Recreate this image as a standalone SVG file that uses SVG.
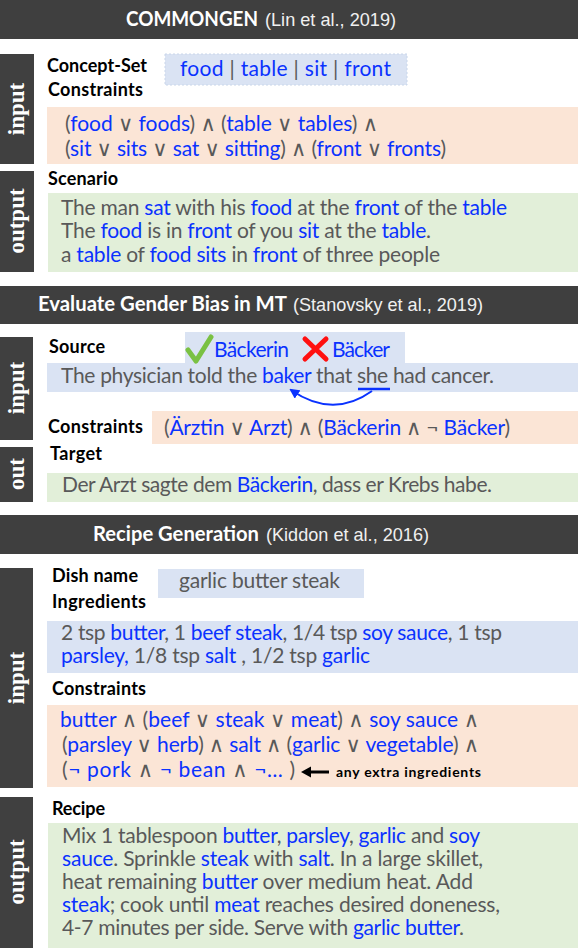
<svg xmlns="http://www.w3.org/2000/svg" width="578" height="948" viewBox="0 0 578 948">
<style>
.t{font-family:Lato,"DejaVu Sans",sans-serif;font-size:21px;fill:#595959}
.b{fill:#0a32ff}
.lbl{font-family:Lato,"Liberation Sans",sans-serif;font-weight:700;font-size:18px;fill:#000}
.hb{font-family:Lato,"Liberation Sans",sans-serif;font-weight:700;font-size:20px;fill:#fff}
.hc{font-family:"Liberation Sans",Arial,sans-serif;font-size:19px;fill:#f0f0f0}
.side{font-family:"Liberation Serif","Times New Roman",serif;font-weight:700;font-size:23px;fill:#fff}
.bar{fill:#3f3f3f}
.sb{fill:#404040}
.blue{fill:#dae3f3}
.orange{fill:#fbe5d6}
.green{fill:#e2efd9}
</style>
<defs>
<marker id="ah" viewBox="0 0 10 10" refX="8" refY="5" markerWidth="5" markerHeight="5" orient="auto-start-reverse" markerUnits="strokeWidth">
<path d="M0,0 L10,5 L0,10 z" fill="#0a32ff"/>
</marker>
</defs>
<rect width="578" height="948" fill="#fff"/>

<!-- Section 1 -->
<g id="header1">
<rect class="bar" x="0" y="0" width="578" height="39"/>
<text class="hb" x="126" y="26" textLength="132" lengthAdjust="spacingAndGlyphs">COMMONGEN</text>
<text class="hc" x="265" y="26" textLength="131" lengthAdjust="spacingAndGlyphs">(Lin et al., 2019)</text>
</g>
<g id="side1-input">
<rect class="sb" x="0" y="54" width="34" height="110"/>
<text class="side" transform="translate(24,109) rotate(-90)" text-anchor="middle">input</text>
</g>
<g id="side1-output">
<rect class="sb" x="0" y="171" width="34" height="101"/>
<text class="side" transform="translate(24,221) rotate(-90)" text-anchor="middle">output</text>
</g>
<g id="concept-set">
<text class="lbl" x="47" y="72" textLength="100">Concept-Set</text>
<rect class="blue" x="165" y="54" width="242" height="31" stroke="#c9d6ea" stroke-dasharray="2,2"/>
<text class="t" x="180" y="76" textLength="211"><tspan class="b">food</tspan> | <tspan class="b">table</tspan> | <tspan class="b">sit</tspan> | <tspan class="b">front</tspan></text>
</g>
<g id="constraints1">
<text class="lbl" x="48" y="96" textLength="95">Constraints</text>
<rect class="orange" x="47" y="107" width="531" height="57"/>
<text class="t" x="65" y="131" textLength="313">(<tspan class="b">food</tspan> ∨ <tspan class="b">foods</tspan>) ∧ (<tspan class="b">table</tspan> ∨ <tspan class="b">tables</tspan>) ∧</text>
<text class="t" x="65" y="156" textLength="381">(<tspan class="b">sit</tspan> ∨ <tspan class="b">sits</tspan> ∨ <tspan class="b">sat</tspan> ∨ <tspan class="b">sitting</tspan>) ∧ (<tspan class="b">front</tspan> ∨ <tspan class="b">fronts</tspan>)</text>
</g>
<g id="scenario">
<text class="lbl" x="48" y="185" textLength="70">Scenario</text>
<rect class="green" x="48" y="193" width="530" height="79"/>
<text class="t" x="61" y="215" textLength="446">The man <tspan class="b">sat</tspan> with his <tspan class="b">food</tspan> at the <tspan class="b">front</tspan> of the <tspan class="b">table</tspan></text>
<text class="t" x="61" y="238" textLength="370">The <tspan class="b">food</tspan> is in <tspan class="b">front</tspan> of you <tspan class="b">sit</tspan> at the <tspan class="b">table</tspan>.</text>
<text class="t" x="61" y="262" textLength="379">a <tspan class="b">table</tspan> of <tspan class="b">food</tspan> <tspan class="b">sits</tspan> in <tspan class="b">front</tspan> of three people</text>
</g>

<!-- Section 2 -->
<g id="header2">
<rect class="bar" x="0" y="286" width="578" height="38"/>
<text class="hb" x="38" y="311" textLength="249" lengthAdjust="spacingAndGlyphs">Evaluate Gender Bias in MT</text>
<text class="hc" x="293" y="311" textLength="190" lengthAdjust="spacingAndGlyphs">(Stanovsky et al., 2019)</text>
</g>
<g id="side2-input">
<rect class="sb" x="0" y="337" width="33" height="103"/>
<text class="side" transform="translate(24,388) rotate(-90)" text-anchor="middle">input</text>
</g>
<g id="side2-out">
<rect class="sb" x="0" y="447" width="33" height="55"/>
<text class="side" transform="translate(24,474) rotate(-90)" text-anchor="middle">out</text>
</g>
<g id="source">
<text class="lbl" x="49" y="353" textLength="56">Source</text>
<rect class="blue" x="185" y="332" width="220" height="33"/>
<rect class="blue" x="47" y="363" width="531" height="29"/>
<path d="M188,350 L196,361 L211,337" fill="none" stroke="#7ac143" stroke-width="5" stroke-linecap="round" stroke-linejoin="round"/>
<text class="t b" x="214" y="357" textLength="75">Bäckerin</text>
<path d="M305,339 L326,359 M326,339 L305,359" fill="none" stroke="#ff1010" stroke-width="5" stroke-linecap="round"/>
<text class="t b" x="332" y="357" textLength="58">Bäcker</text>
<text class="t" x="61" y="383" textLength="433">The physician told the <tspan class="b">baker</tspan> that she had cancer.</text>
<line x1="358" y1="389" x2="390" y2="389" stroke="#0a32ff" stroke-width="2.5"/>
</g>
<g id="constraints2">
<text class="lbl" x="48" y="433" textLength="95">Constraints</text>
<rect class="orange" x="152" y="411" width="426" height="33"/>
<text class="t" x="164" y="435" textLength="346">(<tspan class="b">Ärztin</tspan> ∨ <tspan class="b">Arzt</tspan>) ∧ (<tspan class="b">Bäckerin</tspan> ∧ ¬ <tspan class="b">Bäcker</tspan>)</text>
</g>
<g id="target">
<text class="lbl" x="50" y="460" textLength="52">Target</text>
<rect class="green" x="47" y="473" width="531" height="29"/>
<text class="t" x="62" y="492" textLength="430">Der Arzt sagte dem <tspan class="b">Bäckerin</tspan>, dass er Krebs habe.</text>
</g>

<!-- Section 3 -->
<g id="header3">
<rect class="bar" x="0" y="515" width="578" height="39"/>
<text class="hb" x="93" y="541" textLength="166" lengthAdjust="spacingAndGlyphs">Recipe Generation</text>
<text class="hc" x="266" y="541" textLength="163" lengthAdjust="spacingAndGlyphs">(Kiddon et al., 2016)</text>
</g>
<g id="side3-input">
<rect class="sb" x="0" y="568" width="33" height="220"/>
<text class="side" transform="translate(24,678) rotate(-90)" text-anchor="middle">input</text>
</g>
<g id="side3-output">
<rect class="sb" x="0" y="797" width="33" height="151"/>
<text class="side" transform="translate(24,872) rotate(-90)" text-anchor="middle">output</text>
</g>
<g id="dish-name">
<text class="lbl" x="52" y="582" textLength="86">Dish name</text>
<rect class="blue" x="158" y="569" width="206" height="29"/>
<text class="t" x="179" y="588" textLength="161">garlic butter steak</text>
</g>
<g id="ingredients">
<text class="lbl" x="52" y="608" textLength="94">Ingredients</text>
<rect class="blue" x="47" y="621" width="531" height="52"/>
<text class="t" x="61" y="640" textLength="441">2 tsp <tspan class="b">butter</tspan>, 1 <tspan class="b">beef steak</tspan>, 1/4 tsp <tspan class="b">soy sauce</tspan>, 1 tsp</text>
<text class="t" x="61" y="663" textLength="309"><tspan class="b">parsley,</tspan>  1/8 tsp <tspan class="b">salt</tspan> , 1/2 tsp <tspan class="b">garlic</tspan></text>
</g>
<g id="constraints3">
<text class="lbl" x="52" y="695" textLength="94">Constraints</text>
<rect class="orange" x="47" y="705" width="531" height="82"/>
<text class="t" x="60" y="727" textLength="419"><tspan class="b">butter</tspan> ∧ (<tspan class="b">beef</tspan> ∨ <tspan class="b">steak</tspan> ∨ <tspan class="b">meat</tspan>) ∧  <tspan class="b">soy sauce</tspan>  ∧</text>
<text class="t" x="62" y="752" textLength="417">(<tspan class="b">parsley</tspan> ∨ <tspan class="b">herb</tspan>) ∧ <tspan class="b">salt</tspan> ∧ (<tspan class="b">garlic</tspan> ∨ <tspan class="b">vegetable</tspan>) ∧</text>
<text class="t" x="62" y="777" textLength="233">(<tspan class="b">¬ pork</tspan> ∧  <tspan class="b">¬ bean</tspan> ∧  <tspan class="b">¬…</tspan> )</text>
<text class="lbl" x="336" y="777" style="font-size:14px" textLength="145">any extra ingredients</text>
</g>
<g id="recipe">
<text class="lbl" x="52" y="815" textLength="53">Recipe</text>
<rect class="green" x="48" y="823" width="530" height="125"/>
<text class="t" x="62" y="843" textLength="418">Mix 1 tablespoon <tspan class="b">butter</tspan>, <tspan class="b">parsley</tspan>, <tspan class="b">garlic</tspan> and <tspan class="b">soy</tspan></text>
<text class="t" x="62" y="866" textLength="421"><tspan class="b">sauce</tspan>. Sprinkle <tspan class="b">steak</tspan> with <tspan class="b">salt</tspan>. In a large skillet,</text>
<text class="t" x="62" y="889" textLength="411">heat remaining <tspan class="b">butter</tspan> over medium heat. Add</text>
<text class="t" x="62" y="912" textLength="438"><tspan class="b">steak</tspan>; cook until <tspan class="b">meat</tspan> reaches desired doneness,</text>
<text class="t" x="62" y="935" textLength="402">4-7 minutes per side. Serve with <tspan class="b">garlic butter</tspan>.</text>
</g>

<g id="connectors">
<path d="M372,391 Q333,419 291,390" fill="none" stroke="#0a32ff" stroke-width="2" marker-end="url(#ah)"/>
<line x1="329" y1="772" x2="310" y2="772" stroke="#000" stroke-width="3"/>
<polygon points="301,772 311,766.5 311,777.5" fill="#000"/>
</g>
</svg>
